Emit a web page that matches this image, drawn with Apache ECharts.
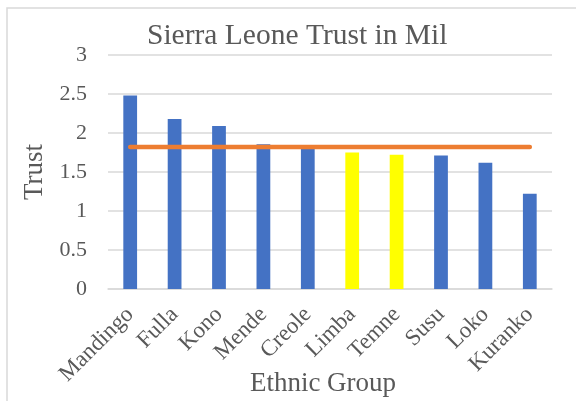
<!DOCTYPE html>
<html>
<head>
<meta charset="utf-8">
<script src="https://cdn.jsdelivr.net/npm/echarts@6/dist/echarts.min.js"></script>
<style>
  html, body { margin: 0; padding: 0; background: #fff; }
  #chart { width: 576px; height: 401px; }
</style>
</head>
<body>
<div id="chart"></div>
<script>
// data
var groups = ['Mandingo', 'Fulla', 'Kono', 'Mende', 'Creole', 'Limba', 'Temne', 'Susu', 'Loko', 'Kuranko'];
var trust = [2.48, 2.18, 2.09, 1.855, 1.80, 1.75, 1.72, 1.71, 1.62, 1.22];
var highlighted = ['Limba', 'Temne'];
var meanLine = [1.82, 1.82, 1.82, 1.82, 1.82, 1.82, 1.82, 1.82, 1.82, 1.82];

var font = '"Liberation Serif", "Times New Roman", serif';
var grey = '#595959';

var barData = [];
for (var i = 0; i < groups.length; i++) {
    barData.push({
        value: trust[i],
        itemStyle: { color: highlighted.indexOf(groups[i]) >= 0 ? '#FFFF00' : '#4472C4' }
    });
}

var chart = echarts.init(document.getElementById('chart'), null, { renderer: 'canvas' });
chart.setOption({
    animation: false,
    backgroundColor: '#fff',
    title: {
        text: 'Sierra Leone Trust in Mil',
        left: 142,
        top: 16,
        textStyle: { fontFamily: font, fontSize: 29.5, fontWeight: 'normal', color: grey }
    },
    graphic: [{
        type: 'rect',
        shape: { x: 7, y: 8, width: 620, height: 420 },
        style: { fill: 'none', stroke: '#d9d9d9', lineWidth: 1.5 },
        silent: true
    }],
    grid: { left: 108, right: 24, top: 55, bottom: 112, containLabel: false, outerBoundsMode: 'none' },
    xAxis: {
        type: 'category',
        data: groups,
        name: 'Ethnic Group',
        nameLocation: 'middle',
        nameGap: 81,
        nameMoveOverlap: false,
        nameTextStyle: { fontFamily: font, fontSize: 27, color: grey, padding: [0, 14, 0, 0] },
        axisLine: { show: true, lineStyle: { color: '#d9d9d9', width: 1.5 } },
        axisTick: { show: false },
        axisLabel: { rotate: 45, margin: 22, fontFamily: font, fontSize: 23, color: grey, interval: 0 }
    },
    yAxis: {
        type: 'value',
        min: 0,
        max: 3,
        interval: 0.5,
        name: 'Trust',
        nameLocation: 'middle',
        nameGap: 59,
        nameTextStyle: { fontFamily: font, fontSize: 27, color: grey },
        axisLine: { show: false },
        axisTick: { show: false },
        axisLabel: { margin: 21, fontFamily: font, fontSize: 22, color: grey },
        splitLine: { lineStyle: { color: '#d9d9d9', width: 1.5 } }
    },
    series: [{
        type: 'bar',
        data: barData,
        barWidth: '31%',
        z: 2
    }, {
        type: 'line',
        data: meanLine,
        symbol: 'none',
        lineStyle: { color: '#ED7D31', width: 4.5, cap: 'round' },
        z: 3
    }]
});
</script>
</body>
</html>
